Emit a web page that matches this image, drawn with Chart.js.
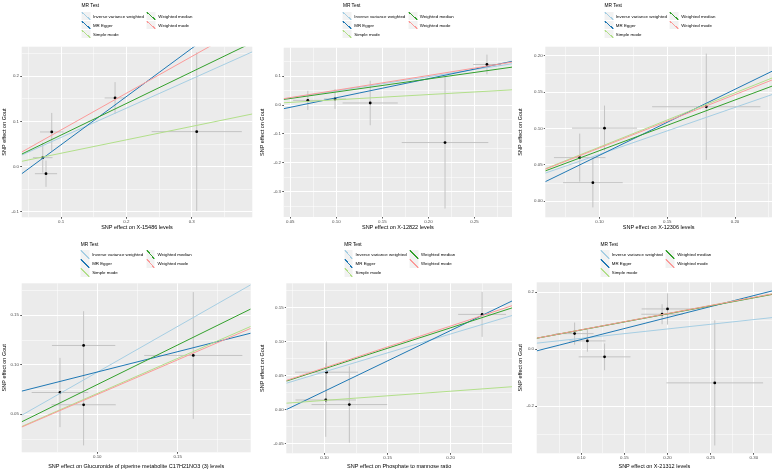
<!DOCTYPE html>
<html>
<head>
<meta charset="utf-8">
<script src="https://cdn.jsdelivr.net/npm/chart.js@4.4.1/dist/chart.umd.min.js"></script>
<style>
  body { margin: 0; width: 776px; height: 471px; background: #fff; position: relative; overflow: hidden;
         font-family: "Liberation Sans", Arial, sans-serif; }
  .panel { position: absolute; }
  .panel canvas { position: absolute; left: 0; top: 0; }
  .legend { position: absolute; transform: translateX(-50%); color: #000; white-space: nowrap; }
  .legend .ttl { font-size: 4.8px; line-height: 8px; height: 8px; margin-bottom: 1.5px; }
  .legend .items { display: grid; grid-auto-flow: column; grid-template-rows: repeat(3, 9px); column-gap: 3px; }
  .legend .item { display: flex; align-items: center; font-size: 4.4px; }
  .legend .key { width: 8.8px; height: 8.8px; margin-right: 2.6px; }
</style>
</head>
<body>
<script>
// ---- data ----
const methods = ["Inverse variance weighted", "MR Egger", "Simple mode", "Weighted median", "Weighted mode"];
const methodColors = ["#a6cee3", "#1f78b4", "#b2df8a", "#33a02c", "#fb9a99"];
const outcomeLabel = "SNP effect on Gout";
const exposureLabels = [
  "SNP effect on X-15486 levels",
  "SNP effect on X-12822 levels",
  "SNP effect on X-12306 levels",
  "SNP effect on Glucuronide of piperine metabolite C17H21NO3 (3) levels",
  "SNP effect on Phosphate to mannose ratio",
  "SNP effect on X-21312 levels"
];

// SNP effects on exposure / outcome, and error bar half widths
const snpX = [
  [0.0858, 0.072, 0.077, 0.1827, 0.3077],
  [0.0691, 0.0986, 0.1368, 0.218, 0.2635],
  [0.0854, 0.1037, 0.0951, 0.1788],
  [0.0768, 0.0915, 0.0915, 0.1597],
  [0.1016, 0.1010, 0.1197, 0.225],
  [0.0924, 0.1072, 0.1271, 0.1937, 0.20, 0.2547]
];
const snpY = [
  [0.0766, 0.0199, -0.0155, 0.1516, 0.0773],
  [0.016, 0.0207, 0.007, -0.1297, 0.140],
  [0.06, 0.1005, 0.0256, 0.1299],
  [0.072, 0.1195, 0.0596, 0.1094],
  [0.0549, 0.0141, 0.0074, 0.1397],
  [0.0547, 0.029, -0.027, 0.1228, 0.1414, -0.1185]
];
const snpXErr = [
  [0.018, 0.015, 0.017, 0.016, 0.069],
  [0.016, 0.012, 0.03, 0.047, 0.015],
  [0.019, 0.024, 0.022, 0.04],
  [0.0176, 0.0197, 0.02, 0.0305],
  [0.025, 0.024, 0.03, 0.019],
  [0.022, 0.021, 0.03, 0.024, 0.03, 0.056]
];
const snpYErr = [
  [0.042, 0.033, 0.029, 0.035, 0.175],
  [0.033, 0.034, 0.077, 0.228, 0.034],
  [0.033, 0.031, 0.034, 0.073],
  [0.035, 0.0346, 0.041, 0.064],
  [0.045, 0.054, 0.056, 0.033],
  [0.039, 0.038, 0.047, 0.035, 0.055, 0.22]
];

// MR estimates, same order as methods
const slopes = [
  [0.645, 1.063, 0.296, 0.697, 0.81],
  [0.49, 0.66, 0.18, 0.45, 0.51],
  [0.645, 0.907, 0.745, 0.696, 0.733],
  [0.925, 0.411, 0.71, 0.80, 0.70],
  [0.555, 0.89, 0.135, 0.60, 0.613],
  [0.33, 0.773, 0.57, 0.565, 0.57]
];
const intercepts = [
  [0, -0.058, 0, 0, 0],
  [0, -0.041, 0, 0, 0],
  [0, -0.0275, 0, 0, 0],
  [0, 0.0516, 0, 0, 0],
  [0, -0.062, 0, 0, 0],
  [0.005, -0.0435, 0.011, 0.011, 0.011]
];

// axis limits and tick labels
const xLimits = [[0.0398, 0.3928], [0.0429, 0.2907], [0.06, 0.2273], [0.053, 0.1954], [0.0697, 0.2487], [0.0485, 0.321]];
const yLimits = [[-0.1117, 0.2647], [-0.387, 0.198], [-0.022, 0.2124], [0.0116, 0.1823], [-0.0641, 0.1853], [-0.366, 0.235]];
const xTickValues = [
  [0.1, 0.2, 0.3],
  [0.05, 0.10, 0.15, 0.20, 0.25],
  [0.10, 0.15, 0.20],
  [0.10, 0.15],
  [0.10, 0.15, 0.20],
  [0.10, 0.15, 0.20, 0.25, 0.30]
];
const yTickValues = [
  [-0.1, 0.0, 0.1, 0.2],
  [-0.3, -0.2, -0.1, 0.0, 0.1],
  [0.00, 0.05, 0.10, 0.15, 0.20],
  [0.05, 0.10, 0.15],
  [-0.05, 0.00, 0.05, 0.10, 0.15],
  [-0.2, 0.0, 0.2]
];
const xTickDigits = [1, 2, 2, 2, 2, 2];
const yTickDigits = [1, 1, 2, 2, 2, 1];

// ---- layout ----
const boxes = [
  { left: 0,   top: 0,   w: 258, h: 235, pl: 21.7, pr: 252.3, pt: 46.7, pb: 217.3, lt: 2,   tb: 4.2 },
  { left: 258, top: 0,   w: 258, h: 235, pl: 25.7, pr: 255,   pt: 47.7, pb: 217,   lt: 2,   tb: 4.2 },
  { left: 516, top: 0,   w: 260, h: 235, pl: 29.3, pr: 258.5, pt: 46.7, pb: 217.3, lt: 2,   tb: 4.2 },
  { left: 0,   top: 235, w: 258, h: 236, pl: 21.7, pr: 250.7, pt: 48.3, pb: 217.3, lt: 5.5, tb: 1.4 },
  { left: 258, top: 235, w: 258, h: 236, pl: 28.3, pr: 255,   pt: 48.3, pb: 218.3, lt: 5.5, tb: 1.4 },
  { left: 516, top: 235, w: 260, h: 236, pl: 20.7, pr: 259,   pt: 47.3, pb: 218.3, lt: 5.5, tb: 1.4 }
];

const FONT = "'Liberation Sans', Arial, sans-serif";
Chart.defaults.font.family = FONT;

const panelBg = {
  id: "panelBg",
  beforeDraw(chart) {
    const { ctx, chartArea: a } = chart;
    ctx.save();
    ctx.fillStyle = "#ebebeb";
    ctx.fillRect(a.left, a.top, a.width, a.height);
    ctx.restore();
  }
};

const errorBars = {
  id: "errorBars",
  beforeDatasetsDraw(chart, args, o) {
    const { ctx, chartArea: a, scales: { x, y } } = chart;
    ctx.save();
    ctx.beginPath();
    ctx.rect(a.left, a.top, a.width, a.height);
    ctx.clip();
    ctx.strokeStyle = "#bebebe";
    ctx.lineWidth = 0.9;
    o.xs.forEach((xv, i) => {
      const yv = o.ys[i];
      const px = x.getPixelForValue(xv), py = y.getPixelForValue(yv);
      ctx.beginPath();
      ctx.moveTo(px, y.getPixelForValue(yv - o.ye[i]));
      ctx.lineTo(px, y.getPixelForValue(yv + o.ye[i]));
      ctx.moveTo(x.getPixelForValue(xv - o.xe[i]), py);
      ctx.lineTo(x.getPixelForValue(xv + o.xe[i]), py);
      ctx.stroke();
    });
    ctx.restore();
  }
};

function minorsOf(majors, lim) {
  const step = majors[1] - majors[0];
  const out = [];
  for (let v = majors[0] - step / 2; v <= lim[1] + 1e-9; v += step) {
    if (v >= lim[0] - 1e-9) out.push(+v.toFixed(6));
  }
  return out;
}

function tickSetter(majors, lim) {
  return scale => {
    const all = majors.map(v => ({ value: v, major: true }))
      .concat(minorsOf(majors, lim).map(v => ({ value: v, major: false })));
    all.sort((a, b) => a.value - b.value);
    scale.ticks = all;
  };
}

function axis(i, which, b) {
  const isX = which === "x";
  const lim = isX ? xLimits[i] : yLimits[i];
  const majors = isX ? xTickValues[i] : yTickValues[i];
  const digits = isX ? xTickDigits[i] : yTickDigits[i];
  return {
    type: "linear",
    position: isX ? "bottom" : "left",
    min: lim[0],
    max: lim[1],
    afterBuildTicks: tickSetter(majors, lim),
    afterFit: s => { if (isX) s.height = b.h - b.pb; else s.width = b.pl; },
    border: { display: false },
    grid: {
      color: "#ffffff",
      lineWidth: c => (c.tick && c.tick.major) ? 1 : 0.5,
      tickColor: c => (c.tick && c.tick.major) ? "#333333" : "rgba(0,0,0,0)",
      tickLength: 1.5,
      tickWidth: 0.8
    },
    ticks: {
      autoSkip: false,
      maxRotation: 0,
      padding: isX ? 0.5 : 1.2,
      color: "#4d4d4d",
      font: { size: 4.4 },
      callback: (v, idx, ticks) => ticks[idx].major ? Number(v).toFixed(digits) : ""
    },
    title: {
      display: true,
      text: isX ? exposureLabels[i] : outcomeLabel,
      color: "#000",
      font: { size: 5.5 },
      padding: isX ? { top: 0, bottom: b.tb } : { top: 1.6, bottom: 0 }
    }
  };
}

function buildLegend(panel, b) {
  const lg = document.createElement("div");
  lg.className = "legend";
  lg.style.left = ((b.pl + b.pr) / 2) + "px";
  lg.style.top = b.lt + "px";
  const t = document.createElement("div");
  t.className = "ttl";
  t.textContent = "MR Test";
  lg.appendChild(t);
  const items = document.createElement("div");
  items.className = "items";
  methods.forEach((m, k) => {
    const it = document.createElement("div");
    it.className = "item";
    const key = document.createElement("span");
    key.className = "key";
    const c = methodColors[k];
    key.style.background = `linear-gradient(to top right, #f2f2f2 calc(50% - 0.55px), ${c} calc(50% - 0.55px), ${c} calc(50% + 0.55px), #f2f2f2 calc(50% + 0.55px))`;
    it.appendChild(key);
    const s = document.createElement("span");
    s.textContent = m;
    it.appendChild(s);
    items.appendChild(it);
  });
  lg.appendChild(items);
  panel.appendChild(lg);
}

boxes.forEach((b, i) => {
  const panel = document.createElement("div");
  panel.className = "panel";
  panel.style.left = b.left + "px";
  panel.style.top = b.top + "px";
  panel.style.width = b.w + "px";
  panel.style.height = b.h + "px";
  document.body.appendChild(panel);

  const canvas = document.createElement("canvas");
  canvas.width = b.w;
  canvas.height = b.h;
  panel.appendChild(canvas);
  buildLegend(panel, b);

  const [x0, x1] = xLimits[i];
  const lineSets = methods.map((m, k) => ({
    label: m,
    data: [
      { x: x0, y: intercepts[i][k] + slopes[i][k] * x0 },
      { x: x1, y: intercepts[i][k] + slopes[i][k] * x1 }
    ],
    showLine: true,
    borderColor: methodColors[k],
    borderWidth: 1,
    pointRadius: 0,
    order: methods.length - k
  }));

  const pointSet = {
    label: "SNP",
    data: snpX[i].map((v, j) => ({ x: v, y: snpY[i][j] })),
    backgroundColor: "#000",
    borderWidth: 0,
    pointRadius: 1.4,
    order: 20
  };

  new Chart(canvas, {
    type: "scatter",
    data: { datasets: [...lineSets, pointSet] },
    options: {
      responsive: false,
      animation: false,
      events: [],
      layout: { padding: { top: b.pt, right: b.w - b.pr, left: 0, bottom: 0 } },
      plugins: {
        legend: { display: false },
        tooltip: { enabled: false },
        errorBars: { xs: snpX[i], ys: snpY[i], xe: snpXErr[i], ye: snpYErr[i] }
      },
      scales: { x: axis(i, "x", b), y: axis(i, "y", b) }
    },
    plugins: [panelBg, errorBars]
  });
});
</script>
</body>
</html>
